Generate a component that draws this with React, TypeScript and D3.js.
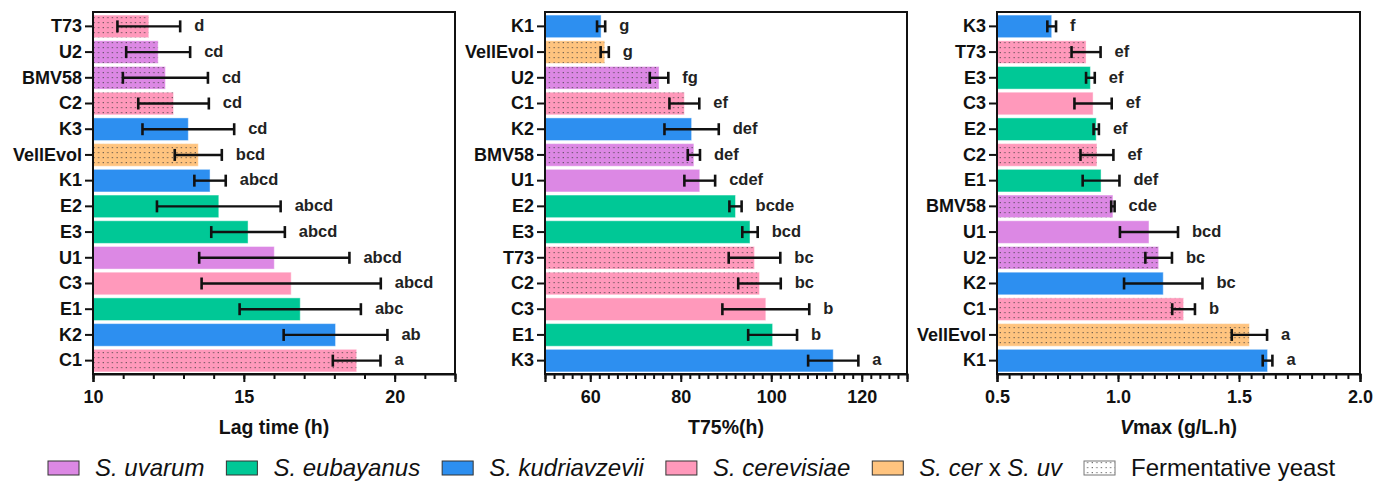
import React, { useEffect, useRef } from "react";
import * as d3 from "d3";

// species + colours
const speciesNames = ["S. uvarum", "S. eubayanus", "S. kudriavzevii", "S. cerevisiae", "S. cer x S. uv"];
const speciesColors = ["#dc88e4", "#00c896", "#2d8ff0", "#ff99bb", "#ffc47f"];

const strains = ["U1", "U2", "BMV58", "E1", "E2", "E3", "K1", "K2", "K3", "C1", "C2", "C3", "T73", "VellEvol"];
const strainSpecies = [0, 0, 0, 1, 1, 1, 2, 2, 2, 3, 3, 3, 3, 4];
const fermentative = ["U2", "BMV58", "C1", "C2", "T73", "VellEvol"];

// Lag time (h)
const lagOrder = ["T73", "U2", "BMV58", "C2", "K3", "VellEvol", "K1", "E2", "E3", "U1", "C3", "E1", "K2", "C1"];
const lagMean = [11.85, 12.16, 12.4, 12.67, 13.16, 13.49, 13.88, 14.17, 15.14, 16.01, 16.57, 16.87, 18.04, 18.74];
const lagSd = [1.04, 1.06, 1.41, 1.17, 1.52, 0.78, 0.52, 2.05, 1.22, 2.49, 2.97, 2.01, 1.72, 0.79];
const lagLetters = ["d", "cd", "cd", "cd", "cd", "bcd", "abcd", "abcd", "abcd", "abcd", "abcd", "abc", "ab", "a"];

// T75% (h)
const t75Order = ["K1", "VellEvol", "U2", "C1", "K2", "BMV58", "U1", "E2", "E3", "T73", "C2", "C3", "E1", "K3"];
const t75Mean = [62.4, 63.2, 75.2, 80.8, 82.4, 82.9, 84.2, 92.1, 95.3, 96.3, 97.4, 98.8, 100.3, 113.7];
const t75Sd = [0.9, 0.9, 2.05, 3.3, 6.0, 1.35, 3.4, 1.35, 1.7, 5.7, 4.7, 9.6, 5.4, 5.55];
const t75Letters = ["g", "g", "fg", "ef", "def", "def", "cdef", "bcde", "bcd", "bc", "bc", "b", "b", "a"];

// Vmax (g/L.h)
const vmaxOrder = ["K3", "T73", "E3", "C3", "E2", "C2", "E1", "BMV58", "U1", "U2", "K2", "C1", "VellEvol", "K1"];
const vmaxMean = [0.726, 0.868, 0.886, 0.897, 0.91, 0.913, 0.93, 0.979, 1.128, 1.168, 1.187, 1.271, 1.543, 1.618];
const vmaxSd = [0.018, 0.06, 0.018, 0.077, 0.011, 0.068, 0.076, 0.007, 0.12, 0.055, 0.162, 0.047, 0.073, 0.02];
const vmaxLetters = ["f", "ef", "ef", "ef", "ef", "ef", "def", "cde", "bcd", "bc", "bc", "b", "a", "a"];

const FONT = "'Liberation Sans', Arial, sans-serif";

const App = () => {
  const ref = useRef<SVGSVGElement>(null);

  useEffect(() => {
    document.body.style.margin = "0";
    const svg = d3.select(ref.current);
    svg.selectAll("*").remove();

    const defs = svg.append("defs");
    const addPattern = (id: string, fill: string) => {
      const p = defs
        .append("pattern")
        .attr("id", id)
        .attr("patternUnits", "userSpaceOnUse")
        .attr("width", 4.6)
        .attr("height", 5);
      p.append("rect").attr("width", 4.6).attr("height", 5).attr("fill", fill);
      p.append("rect").attr("x", 1.5).attr("y", 2).attr("width", 1.2).attr("height", 1.2).attr("fill", "#3a3a3a").attr("opacity", 0.75);
    };
    speciesColors.forEach((c, i) => addPattern(`dots${i}`, c));
    addPattern("dotsW", "#ffffff");

    const fillFor = (s: string) => {
      const sp = strainSpecies[strains.indexOf(s)];
      return fermentative.includes(s) ? `url(#dots${sp})` : speciesColors[sp];
    };

    const top = 13;
    const bottom = 374;

    const panels = [
      { order: lagOrder, mean: lagMean, sd: lagSd, letters: lagLetters, left: 93, right: 455, domain: [10, 22], major: [10, 15, 20], step: 1, fmt: d3.format("d"), title: "Lag time (h)" },
      { order: t75Order, mean: t75Mean, sd: t75Sd, letters: t75Letters, left: 545, right: 907, domain: [50, 130], major: [60, 80, 100, 120], step: 2, fmt: d3.format("d"), title: "T75%(h)" },
      { order: vmaxOrder, mean: vmaxMean, sd: vmaxSd, letters: vmaxLetters, left: 997, right: 1360, domain: [0.5, 2.0], major: [0.5, 1.0, 1.5, 2.0], step: 0.05, fmt: d3.format(".1f"), title: "" },
    ];

    panels.forEach((p, pi) => {
      const g = svg.append("g");
      const x = d3.scaleLinear().domain(p.domain).range([p.left, p.right]);
      const y = d3.scaleBand().domain(p.order).range([top, bottom]).paddingInner(0.12).paddingOuter(0.08);

      g.selectAll("rect.bar")
        .data(p.order)
        .join("rect")
        .attr("class", "bar")
        .attr("x", x(p.domain[0]))
        .attr("y", (d) => y(d)!)
        .attr("width", (d, i) => x(p.mean[i]) - x(p.domain[0]))
        .attr("height", y.bandwidth())
        .attr("fill", (d) => fillFor(d))
        .attr("stroke", "#ffffff")
        .attr("stroke-opacity", 0.45)
        .attr("stroke-width", 1);

      // error bars
      const eb = g.selectAll("g.err").data(p.order).join("g").attr("class", "err")
        .attr("transform", (d) => `translate(0,${y(d)! + y.bandwidth() / 2})`);
      eb.append("line")
        .attr("x1", (d, i) => x(p.mean[i] - p.sd[i]))
        .attr("x2", (d, i) => x(p.mean[i] + p.sd[i]))
        .attr("stroke", "#111").attr("stroke-width", 2.4);
      [-1, 1].forEach((s) => {
        eb.append("line")
          .attr("x1", (d, i) => x(p.mean[i] + s * p.sd[i]))
          .attr("x2", (d, i) => x(p.mean[i] + s * p.sd[i]))
          .attr("y1", -6).attr("y2", 6)
          .attr("stroke", "#111").attr("stroke-width", 2.6);
      });
      eb.append("text")
        .attr("x", (d, i) => x(p.mean[i] + p.sd[i]) + 14)
        .attr("y", -1)
        .attr("dy", "0.35em")
        .attr("font-family", FONT)
        .attr("font-weight", "bold")
        .attr("font-size", 16.5)
        .attr("fill", "#222")
        .text((d, i) => p.letters[i]);

      // frame
      g.append("rect")
        .attr("x", p.left).attr("y", top - 1)
        .attr("width", p.right - p.left).attr("height", bottom - top + 1)
        .attr("fill", "none").attr("stroke", "#111").attr("stroke-width", 2);

      // axes
      const yAxis = g.append("g").attr("transform", `translate(${p.left},0)`)
        .call(d3.axisLeft(y).tickSize(8).tickPadding(3));
      yAxis.select(".domain").remove();
      yAxis.selectAll("line").attr("stroke", "#111").attr("stroke-width", 2);
      yAxis.selectAll("text").attr("font-family", FONT).attr("font-weight", "bold").attr("font-size", 18).attr("fill", "#111");

      const n = Math.round((p.domain[1] - p.domain[0]) / p.step);
      const minor = d3.range(n + 1).map((i) => +(p.domain[0] + i * p.step).toFixed(3));
      const minorAxis = g.append("g").attr("transform", `translate(0,${bottom})`)
        .call(d3.axisBottom(x).tickValues(minor).tickSize(5).tickFormat(() => ""));
      minorAxis.select(".domain").remove();
      minorAxis.selectAll("line").attr("stroke", "#111").attr("stroke-width", 2);

      const xAxis = g.append("g").attr("transform", `translate(0,${bottom})`)
        .call(d3.axisBottom(x).tickValues(p.major).tickSize(8).tickPadding(8).tickFormat((v) => p.fmt(v as number)));
      xAxis.select(".domain").attr("stroke", "#111").attr("stroke-width", 2.2);
      xAxis.selectAll("line").attr("stroke", "#111").attr("stroke-width", 2);
      xAxis.selectAll("text").attr("font-family", FONT).attr("font-weight", "bold").attr("font-size", 18).attr("fill", "#111");

      const title = g.append("text")
        .attr("x", (p.left + p.right) / 2).attr("y", 434)
        .attr("text-anchor", "middle")
        .attr("font-family", FONT).attr("font-weight", "bold").attr("font-size", 19.5).attr("fill", "#111");
      if (pi === 2) {
        title.append("tspan").attr("font-style", "italic").text("V");
        title.append("tspan").text("max (g/L.h)");
      } else {
        title.text(p.title);
      }
    });

    // legend
    const lg = svg.append("g").attr("font-family", FONT).attr("font-size", 24).attr("fill", "#111");
    let cx = 48;
    const items = [...speciesNames.map((n, i) => ({ n, fill: speciesColors[i] })), { n: "Fermentative yeast", fill: "url(#dotsW)" }];
    items.forEach((it, i) => {
      lg.append("rect").attr("x", cx).attr("y", 461).attr("width", 31).attr("height", 14)
        .attr("fill", it.fill).attr("stroke", i === 5 ? "#777" : "#333").attr("stroke-width", 1);
      const t = lg.append("text").attr("x", cx + 47).attr("y", 476);
      if (i === 4) {
        t.append("tspan").attr("font-style", "italic").text("S. cer");
        t.append("tspan").text(" x ");
        t.append("tspan").attr("font-style", "italic").text("S. uv");
      } else if (i === 5) {
        t.text(it.n);
      } else {
        t.attr("font-style", "italic").text(it.n);
      }
      const w = (t.node() as SVGTextElement).getComputedTextLength();
      cx = cx + 47 + w + 22;
    });
  }, []);

  return <svg ref={ref} width={1375} height={481} style={{ display: "block", background: "#fff" }} />;
};

export default App;
